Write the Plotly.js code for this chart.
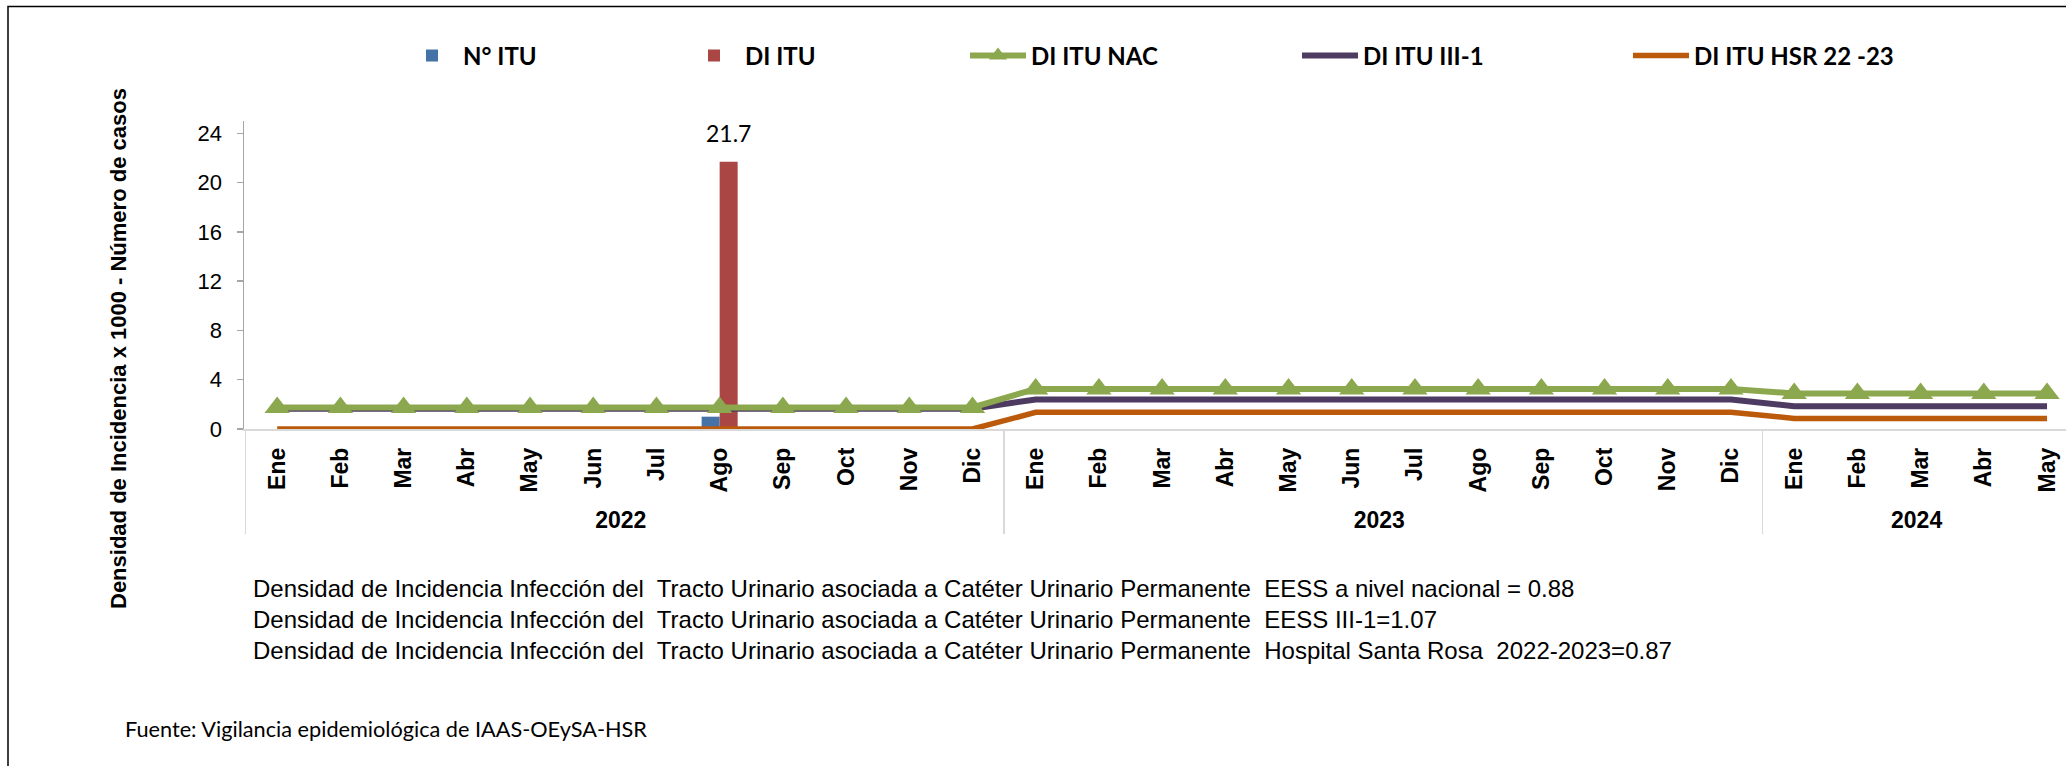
<!DOCTYPE html>
<html>
<head>
<meta charset="utf-8">
<script src="https://cdn.plot.ly/plotly-3.0.1.min.js"></script>
<style>html,body{margin:0;padding:0;background:#fff;}</style>
</head>
<body>
<div id="chart" style="width:2066px;height:766px;"></div>
<script>
// ---- data ----
const years = ["2022","2022","2022","2022","2022","2022","2022","2022","2022","2022","2022","2022",
               "2023","2023","2023","2023","2023","2023","2023","2023","2023","2023","2023","2023",
               "2024","2024","2024","2024","2024"];
const months = ["Ene","Feb","Mar","Abr","May","Jun","Jul","Ago","Sep","Oct","Nov","Dic",
                "Ene","Feb","Mar","Abr","May","Jun","Jul","Ago","Sep","Oct","Nov","Dic",
                "Ene","Feb","Mar","Abr","May"];
const nItu = [0,0,0,0,0,0,0,1,0,0,0,0,
              0,0,0,0,0,0,0,0,0,0,0,0,
              0,0,0,0,0];
const diItu = [0,0,0,0,0,0,0,21.7,0,0,0,0,
               0,0,0,0,0,0,0,0,0,0,0,0,
               0,0,0,0,0];
const diItuNac = [1.75,1.75,1.75,1.75,1.75,1.75,1.75,1.75,1.75,1.75,1.75,1.75,
                  3.25,3.25,3.25,3.25,3.25,3.25,3.25,3.25,3.25,3.25,3.25,3.25,
                  2.88,2.88,2.88,2.88,2.88];
const diItuIII1 = [1.65,1.65,1.65,1.65,1.65,1.65,1.65,1.65,1.65,1.65,1.65,1.65,
                   2.4,2.4,2.4,2.4,2.4,2.4,2.4,2.4,2.4,2.4,2.4,2.4,
                   1.85,1.85,1.85,1.85,1.85];
const diItuHsr = [0,0,0,0,0,0,0,0,0,0,0,0,
                  1.35,1.35,1.35,1.35,1.35,1.35,1.35,1.35,1.35,1.35,1.35,1.35,
                  0.86,0.86,0.86,0.86,0.86];
const seriesNames = ["N° ITU","DI ITU","DI ITU NAC","DI ITU III-1","DI ITU HSR 22 -23"];
const yTicks = [0,4,8,12,16,20,24];
const yAxisTitle = "Densidad de Incidencia x 1000 - Número de casos";
const notes = [
  "Densidad de Incidencia Infección del  Tracto Urinario asociada a Catéter Urinario Permanente  EESS a nivel nacional = 0.88",
  "Densidad de Incidencia Infección del  Tracto Urinario asociada a Catéter Urinario Permanente  EESS III-1=1.07",
  "Densidad de Incidencia Infección del  Tracto Urinario asociada a Catéter Urinario Permanente  Hospital Santa Rosa  2022-2023=0.87"
];
const sourceNote = "Fuente: Vigilancia epidemiológica de IAAS-OEySA-HSR";

// ---- styling ----
const ARIAL = "Liberation Sans, Arial, sans-serif";
const CALIBRI = "Lato, Carlito, Calibri, sans-serif";
const C = {blue:"#4572A7", red:"#AA4643", green:"#8BA84E", purple:"#4E3B62", orange:"#BC5A0C"};

const xCats = [years, months];

const traces = [
  {type:"bar", name:seriesNames[0], x:xCats, y:nItu, marker:{color:C.blue}, legend:"legend", hoverinfo:"y+name"},
  {type:"bar", name:seriesNames[1], x:xCats, y:diItu, marker:{color:C.red}, legend:"legend2", hoverinfo:"y+name"},
  {type:"scatter", mode:"lines", name:seriesNames[3], x:xCats, y:diItuIII1,
   line:{color:C.purple, width:6}, legend:"legend4"},
  {type:"scatter", mode:"lines", name:seriesNames[4], x:xCats, y:diItuHsr,
   line:{color:C.orange, width:5.5}, legend:"legend5"},
  {type:"scatter", mode:"lines+markers", name:seriesNames[2], x:xCats, y:diItuNac,
   line:{color:C.green, width:6}, marker:{symbol:"triangle-up", size:22, color:C.green}, legend:"legend3"}
];

const peakIdx = diItu.indexOf(Math.max(...diItu));

function legendAt(px, iw) {
  return {x:px/2066, y:1-56/766, xref:"container", yref:"container", xanchor:"left", yanchor:"middle",
          orientation:"h", bgcolor:"rgba(0,0,0,0)", borderwidth:0, itemwidth:iw,
          font:{family:CALIBRI, size:24, color:"#000", weight:"bold"}};
}

const L = 244, T = 121, B = 337, W = 2066, H = 766;
const plotH = H - T - B, plotW = W - L;
const px2x = p => (p - L) / plotW;
const py2y = p => (H - B - p) / plotH;

const layout = {
  width:W, height:H,
  margin:{l:L, r:0, t:T, b:B, pad:0},
  paper_bgcolor:"#fff", plot_bgcolor:"#fff",
  showlegend:true,
  barmode:"group", bargap:0.43, bargroupgap:0,
  hovermode:false,
  legend: legendAt(401, 52),
  legend2: legendAt(683, 52),
  legend3: legendAt(965, 56),
  legend4: legendAt(1297, 56),
  legend5: legendAt(1628, 56),
  xaxis:{
    type:"multicategory",
    range:[-0.525, 28.30],
    showgrid:false, zeroline:false,
    showline:true, linecolor:"#d9d9d9", linewidth:1.5,
    ticks:"", tickangle:-90,
    ticklabelstandoff:8,
    showdividers:true, dividercolor:"#d9d9d9", dividerwidth:1.5,
    tickfont:{family:ARIAL, size:23, color:"#000", weight:"bold"}
  },
  yaxis:{
    range:[0,25], tickmode:"array", tickvals:yTicks, ticktext:yTicks.map(String),
    showgrid:false, zeroline:false,
    showline:true, linecolor:"#a6a6a6", linewidth:1.5,
    ticks:"outside", ticklen:6, tickwidth:1.5, tickcolor:"#a6a6a6",
    ticklabelstandoff:10,
    tickfont:{family:ARIAL, size:22, color:"#000"}
  },
  shapes:[
    {type:"rect", xref:"paper", yref:"paper",
     x0:px2x(8), x1:px2x(2080), y0:py2y(790), y1:py2y(6.5),
     line:{color:"#000", width:1.5}, fillcolor:"rgba(0,0,0,0)"}
  ],
  annotations:[
    {text:diItu[peakIdx].toFixed(1), x:peakIdx, y:diItu[peakIdx], xref:"x", yref:"y",
     xanchor:"center", yanchor:"bottom", xshift:9, yshift:13, showarrow:false,
     font:{family:CALIBRI, size:23, color:"#000"}},
    {text:yAxisTitle, textangle:-90, xref:"paper", yref:"paper",
     x:px2x(118), y:py2y(349), xanchor:"center", yanchor:"middle", showarrow:false,
     font:{family:ARIAL, size:22, color:"#000", weight:"bold"}},
    {text:notes.join("<br>"), xref:"paper", yref:"paper", align:"left",
     x:px2x(251), y:py2y(619), xanchor:"left", yanchor:"middle", showarrow:false,
     font:{family:ARIAL, size:24, color:"#000"}},
    {text:sourceNote, xref:"paper", yref:"paper", align:"left",
     x:px2x(123), y:py2y(729), xanchor:"left", yanchor:"middle", showarrow:false,
     font:{family:CALIBRI, size:21.7, color:"#000"}}
  ]
};

Plotly.newPlot("chart", traces, layout, {displayModeBar:false, staticPlot:true});
</script>
</body>
</html>
